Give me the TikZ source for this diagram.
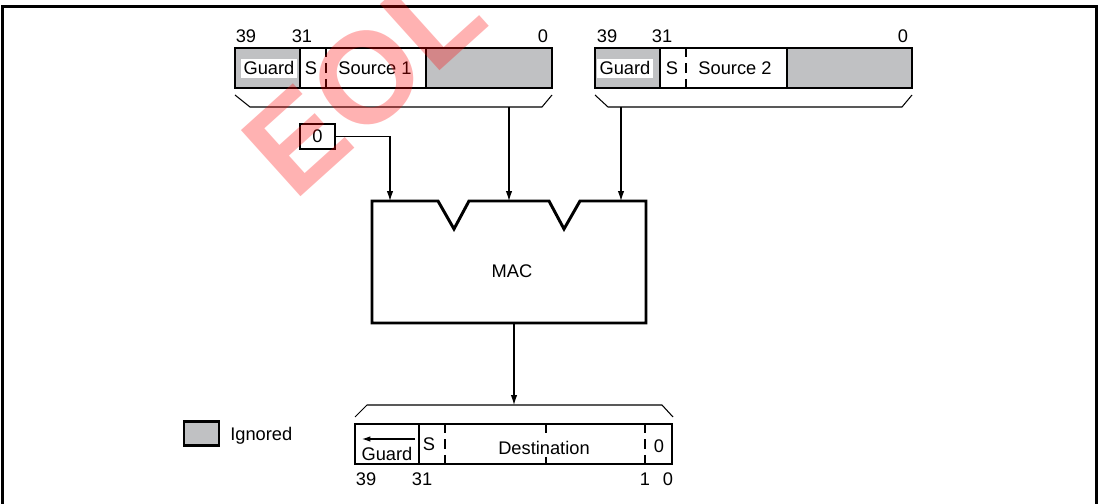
\documentclass[tikz,border=0pt]{standalone}
\usepackage{fontspec}
\setmainfont{Liberation Sans}
\usetikzlibrary{arrows.meta}
\definecolor{ign}{RGB}{192,193,195}
\begin{document}
\begin{tikzpicture}[x=0.025cm,y=-0.025cm,
  reg/.style={line width=2.1pt},
  thinln/.style={line width=0.75pt},
  dsh/.style={line width=2.1pt, dash pattern=on 6.5pt off 4.5pt},
  arr/.style={thinln,-{Latex[length=7pt,width=4.5pt]}},
  lbl/.style={font=\fontsize{13}{15}\selectfont, inner sep=0pt, anchor=base},
  wlbl/.style={lbl, fill=white, inner xsep=1.5pt, inner ysep=2pt},
]
\useasboundingbox (0,0) rectangle (1100,504);
% frame
\draw[line width=1.6pt] (2.5,504) -- (2.5,6.5) -- (1096.5,6.5) -- (1096.5,504);

% ---------- Source 1 ----------
\fill[ign] (235,48) rectangle (300,88);
\fill[ign] (426,48) rectangle (552,88);
\draw[reg] (235,48) rectangle (552,88);
\draw[reg] (300,48) -- (300,88) (426,48) -- (426,88);
\draw[dsh] (326,48) -- (326,88);
\node[wlbl] (g1) at (269,75) {Guard};
\node[lbl] (s1) at (311,75) {S};
\node[lbl] (v1) at (375,75) {Source 1};
\node[lbl] (a39) at (246,43) {39};
\node[lbl] (a31) at (302,43) {31};
\node[lbl] (a0) at (543,43) {0};
\draw[thinln] (235,95) -- (250,107) -- (542,107) -- (552,95);
\coordinate (b1) at (509,107);

% ---------- Source 2 ----------
\fill[ign] (595,48) rectangle (660,88);
\fill[ign] (787,48) rectangle (912,88);
\draw[reg] (595,48) rectangle (912,88);
\draw[reg] (660,48) -- (660,88) (787,48) -- (787,88);
\draw[dsh] (686,48) -- (686,88);
\node[wlbl] (g2) at (625,75) {Guard};
\node[lbl] (s2) at (672,75) {S};
\node[lbl] (v2) at (735,75) {Source 2};
\node[lbl] (c39) at (607,43) {39};
\node[lbl] (c31) at (662,43) {31};
\node[lbl] (c0) at (903,43) {0};
\draw[thinln] (595,95) -- (608,107) -- (902,107) -- (912,95);
\coordinate (b2) at (621,107);

% ---------- zero box ----------
\node[draw, reg, minimum width=24.9pt, minimum height=17.8pt, inner sep=0pt,
      font=\fontsize{13}{15}\selectfont] (zero) at (317.5,136.5) {0};

% ---------- MAC ----------
\draw[reg] (372,201) -- (438,201) -- (454,229) -- (469,201) -- (549,201)
  -- (564,229) -- (580,201) -- (646,201) -- (646,323) -- (372,323) -- cycle;
\node[lbl] (mac) at (512,278) {MAC};
\coordinate (in1) at (390,201);
\coordinate (in2) at (509,201);
\coordinate (in3) at (621,201);
\coordinate (out) at (514,323);

\draw[arr] (zero.east) -| (in1);
\draw[arr] (b1) -- (in2);
\draw[arr] (b2) -- (in3);

% ---------- Destination ----------
\coordinate (dtop) at (514,405);
\draw[arr] (out) -- (dtop);
\draw[thinln] (355,417) -- (367,405) -- (662,405) -- (673,417);
\draw[reg] (355,424) rectangle (672,464);
\draw[reg] (419,424) -- (419,464);
\draw[dsh] (445,424) -- (445,464);
\draw[dsh] (546,424) -- (546,464);
\draw[dsh] (645,424) -- (645,464);
\node[lbl] (dg) at (387,460) {Guard};
\coordinate (ga) at (415,439);
\coordinate (gb) at (362,439);
\draw[thinln,-{Latex[length=6pt,width=4pt]}] (ga) -- (gb);
\node[lbl] (ds) at (429,450) {S};
\node[lbl, fill=white, inner xsep=2pt, inner ysep=2pt] (dd) at (544,454) {Destination};
\node[lbl, fill=white, inner xsep=1pt, inner ysep=2pt] (d0) at (659,453) {0};
\node[lbl] (e39) at (366,485) {39};
\node[lbl] (e31) at (422,485) {31};
\node[lbl] (e1) at (645,485) {1};
\node[lbl] (e0) at (668,485) {0};

% ---------- Legend ----------
\node[draw, reg, fill=ign, minimum width=24.9pt, minimum height=16.4pt, inner sep=0pt] (leg) at (201.5,433.5) {};
\node[lbl, anchor=base west] (legt) at (230,441) {Ignored};

% ---------- watermark ----------
\node[text=red, opacity=0.3, rotate=42, inner sep=0pt,
      font=\fontsize{92}{92}\selectfont\bfseries] (wm) at (364,80) {EOL};
\end{tikzpicture}
\end{document}
